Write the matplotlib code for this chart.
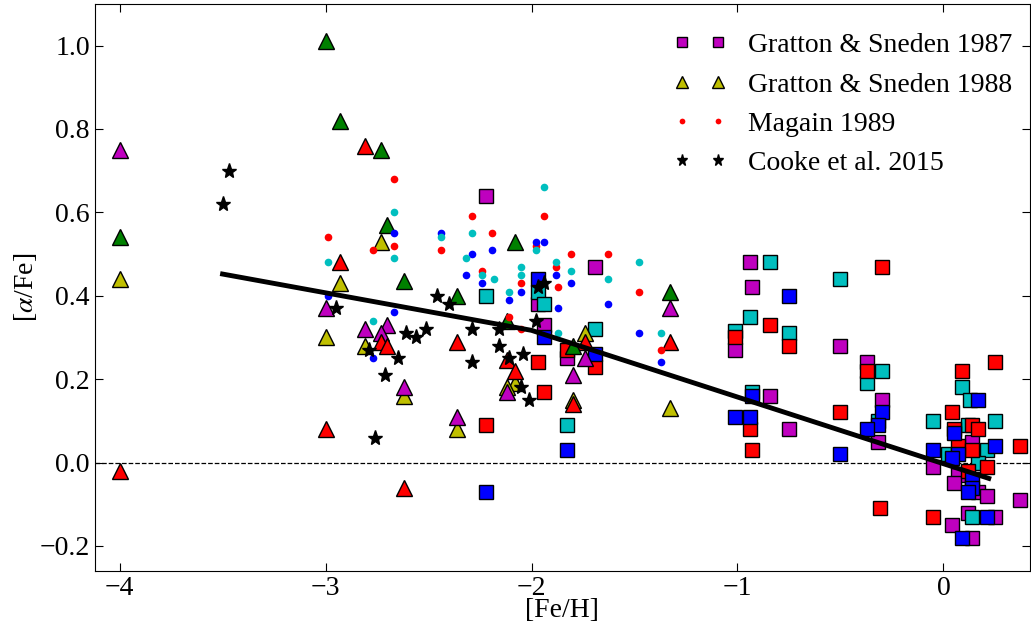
import matplotlib.pyplot as plt
import numpy as np

plt.rcParams['font.family'] = ['Liberation Serif', 'DejaVu Serif']
plt.rcParams['mathtext.fontset'] = 'stix'
plt.rcParams['xtick.direction'] = 'in'
plt.rcParams['ytick.direction'] = 'in'
plt.rcParams['xtick.top'] = True
plt.rcParams['ytick.right'] = True

# old-style matplotlib colours
C_M = (0.75, 0.0, 0.75)
C_C = (0.0, 0.75, 0.75)
C_Y = (0.75, 0.75, 0.0)
C_G = (0.0, 0.5, 0.0)

# Gratton & Sneden 1987 (squares)
sq_m_x = [-2.22, -1.97, -1.94, -1.83, -1.69, -0.94, -0.93, -1.01, -0.84, -0.75, -0.50, -0.37, -0.30, -0.32,
          0.14, -0.05, 0.07, 0.05, 0.17, 0.21, 0.37, 0.12, 0.25, 0.04, 0.14]
sq_m_y = [0.64, 0.38, 0.33, 0.25, 0.47, 0.48, 0.42, 0.27, 0.16, 0.08, 0.28, 0.24, 0.15, 0.05,
          0.05, -0.01, -0.03, -0.05, -0.07, -0.08, -0.09, -0.12, -0.13, -0.15, -0.18]
sq_c_x = [-2.22, -1.97, -1.94, -1.69, -1.83, -0.84, -0.50, -0.94, -1.01, -0.75, -0.30, -0.37, -0.93, -0.32,
          0.09, 0.13, -0.05, 0.25, 0.12, 0.21, 0.02, 0.17, 0.14]
sq_c_y = [0.40, 0.41, 0.38, 0.32, 0.09, 0.48, 0.44, 0.35, 0.315, 0.31, 0.22, 0.19, 0.17, 0.10,
          0.18, 0.15, 0.10, 0.10, 0.09, 0.03, 0.02, 0.00, -0.13]
sq_r_x = [-2.22, -1.83, -1.97, -1.94, -1.69, -0.30, -0.84, -1.01, -0.75, -0.37, -0.50, -0.94, -0.93, -0.31,
          0.25, 0.09, 0.04, 0.14, 0.17, 0.05, 0.07, 0.14, 0.37, 0.21, 0.12, -0.05]
sq_r_y = [0.09, 0.27, 0.24, 0.17, 0.23, 0.47, 0.33, 0.30, 0.28, 0.22, 0.12, 0.08, 0.03, -0.11,
          0.24, 0.22, 0.12, 0.09, 0.08, 0.08, 0.04, 0.03, 0.04, -0.01, -0.02, -0.13]
sq_b_x = [-2.22, -1.97, -1.94, -1.69, -1.83, -0.75, -0.93, -1.01, -0.94, -0.30, -0.32, -0.37, -0.50,
          0.17, 0.05, -0.05, 0.25, 0.07, 0.04, 0.14, 0.14, 0.12, 0.21, 0.09]
sq_b_y = [-0.07, 0.44, 0.30, 0.26, 0.03, 0.40, 0.16, 0.11, 0.11, 0.12, 0.09, 0.08, 0.02,
          0.15, 0.07, 0.03, 0.04, 0.02, 0.01, -0.04, -0.06, -0.07, -0.13, -0.18]

# Gratton & Sneden 1988 (triangles)
tr_m_x = [-4.0, -3.0, -2.81, -2.70, -2.73, -2.62, -2.36, -2.12, -1.74, -1.80, -1.33]
tr_m_y = [0.75, 0.37, 0.32, 0.33, 0.31, 0.18, 0.11, 0.17, 0.25, 0.21, 0.37]
tr_y_x = [-4.0, -3.0, -2.93, -2.73, -2.81, -2.62, -2.36, -2.08, -2.12, -1.74, -1.80, -1.33]
tr_y_y = [0.44, 0.30, 0.43, 0.53, 0.28, 0.16, 0.08, 0.19, 0.18, 0.31, 0.15, 0.13]
tr_r_x = [-4.0, -3.0, -2.93, -2.81, -2.73, -2.70, -2.62, -2.36, -2.12, -2.08, -1.74, -1.80, -1.33]
tr_r_y = [-0.02, 0.08, 0.48, 0.76, 0.29, 0.28, -0.06, 0.29, 0.245, 0.22, 0.29, 0.14, 0.29]
tr_g_x = [-4.0, -3.0, -2.93, -2.73, -2.70, -2.62, -2.36, -2.08, -2.12, -1.80, -1.33]
tr_g_y = [0.54, 1.01, 0.82, 0.75, 0.57, 0.435, 0.40, 0.53, 0.34, 0.28, 0.41]

# Magain 1989 (dots)
dt_r_x = [-2.99, -2.67, -2.67, -2.77, -2.29, -2.44, -2.19, -2.24, -2.05, -2.11, -2.05, -1.98, -1.94,
          -1.81, -1.63, -1.88, -1.87, -1.48, -1.37]
dt_r_y = [0.54, 0.68, 0.52, 0.51, 0.59, 0.51, 0.55, 0.46, 0.43, 0.35, 0.32, 0.52, 0.59,
          0.50, 0.50, 0.47, 0.42, 0.41, 0.27]
dt_b_x = [-2.99, -2.67, -2.67, -2.77, -2.44, -2.19, -2.29, -2.32, -2.24, -2.05, -2.11, -1.98, -1.94,
          -1.88, -1.81, -1.63, -1.87, -1.48, -1.37]
dt_b_y = [0.40, 0.55, 0.36, 0.25, 0.55, 0.51, 0.50, 0.45, 0.43, 0.41, 0.39, 0.53, 0.53,
          0.45, 0.43, 0.38, 0.37, 0.31, 0.24]
dt_c_x = [-2.99, -2.67, -2.67, -2.77, -2.44, -2.29, -2.32, -2.24, -2.18, -2.05, -2.05, -2.11, -1.98,
          -1.94, -1.88, -1.81, -1.63, -1.48, -1.37, -1.87]
dt_c_y = [0.48, 0.60, 0.49, 0.34, 0.54, 0.55, 0.49, 0.45, 0.44, 0.47, 0.45, 0.41, 0.51,
          0.66, 0.48, 0.46, 0.44, 0.48, 0.31, 0.31]

# Cooke et al. 2015 (stars)
st_x = [-3.47, -3.50, -2.95, -2.46, -2.40, -2.61, -2.56, -2.51, -2.79, -2.65, -2.71, -2.76,
        -2.29, -2.16, -2.16, -2.29, -2.11, -2.04, -1.98, -1.97, -1.94, -2.05, -2.01]
st_y = [0.70, 0.62, 0.37, 0.40, 0.38, 0.31, 0.30, 0.32, 0.27, 0.25, 0.21, 0.06,
        0.32, 0.32, 0.28, 0.24, 0.25, 0.26, 0.34, 0.42, 0.43, 0.18, 0.15]

# trend line
fit_x = [-3.5, -2.0, 0.22]
fit_y = [0.452, 0.317, -0.038]

fig = plt.figure(figsize=(10.31, 6.33), dpi=100)
ax = fig.add_axes([0.092, 0.098, 0.907, 0.896])

ax.axhline(0.0, color='k', linestyle='--', linewidth=0.9, zorder=1)

sq = dict(marker='s', linestyle='none', markersize=9.5, markeredgecolor='k', markeredgewidth=1.0, zorder=2)
ax.plot(sq_m_x, sq_m_y, color=C_M, label='Gratton & Sneden 1987', **sq)
ax.plot(sq_c_x, sq_c_y, color=C_C, **sq)
ax.plot(sq_r_x, sq_r_y, color='r', **sq)
ax.plot(sq_b_x, sq_b_y, color='b', **sq)

tr = dict(marker='^', linestyle='none', markersize=11, markeredgecolor='k', markeredgewidth=1.0, zorder=3)
ax.plot(tr_y_x, tr_y_y, color=C_Y, label='Gratton & Sneden 1988', **tr)
ax.plot(tr_m_x, tr_m_y, color=C_M, **tr)
ax.plot(tr_r_x, tr_r_y, color='r', **tr)
ax.plot(tr_g_x, tr_g_y, color=C_G, **tr)

dt = dict(marker='o', linestyle='none', markersize=5.5, markeredgewidth=0, zorder=3)
ax.plot(dt_r_x, dt_r_y, color='r', label='Magain 1989', **dt)
ax.plot(dt_b_x, dt_b_y, color='b', **dt)
ax.plot(dt_c_x, dt_c_y, color=C_C, **dt)

ax.plot(fit_x, fit_y, color='k', linewidth=3.5, zorder=4)

ax.plot(st_x, st_y, marker='*', linestyle='none', color='k', markersize=11, zorder=5,
        label='Cooke et al. 2015')

ax.set_xlim(-4.12, 0.42)
ax.set_ylim(-0.26, 1.1)
ax.set_xticks([-4, -3, -2, -1, 0])
ax.set_yticks([-0.2, 0.0, 0.2, 0.4, 0.6, 0.8, 1.0])
ax.set_yticklabels(['\u22120.2', '0.0', '0.2', '0.4', '0.6', '0.8', '1.0'])
ax.set_xticklabels(['\u22124', '\u22123', '\u22122', '\u22121', '0'])
ax.tick_params(labelsize=20, length=6)
ax.set_xlabel('[Fe/H]', fontsize=20, labelpad=-2)
ax.set_ylabel(r'[$\alpha$/Fe]', fontsize=20, labelpad=0.5)

ax.legend(loc='upper right', numpoints=2, frameon=False, fontsize=20, markerscale=0.75,
          handlelength=1.9, handletextpad=0.8, labelspacing=0.5,
          bbox_to_anchor=(1.008, 0.993))

fig.savefig('out.png', dpi=100)
